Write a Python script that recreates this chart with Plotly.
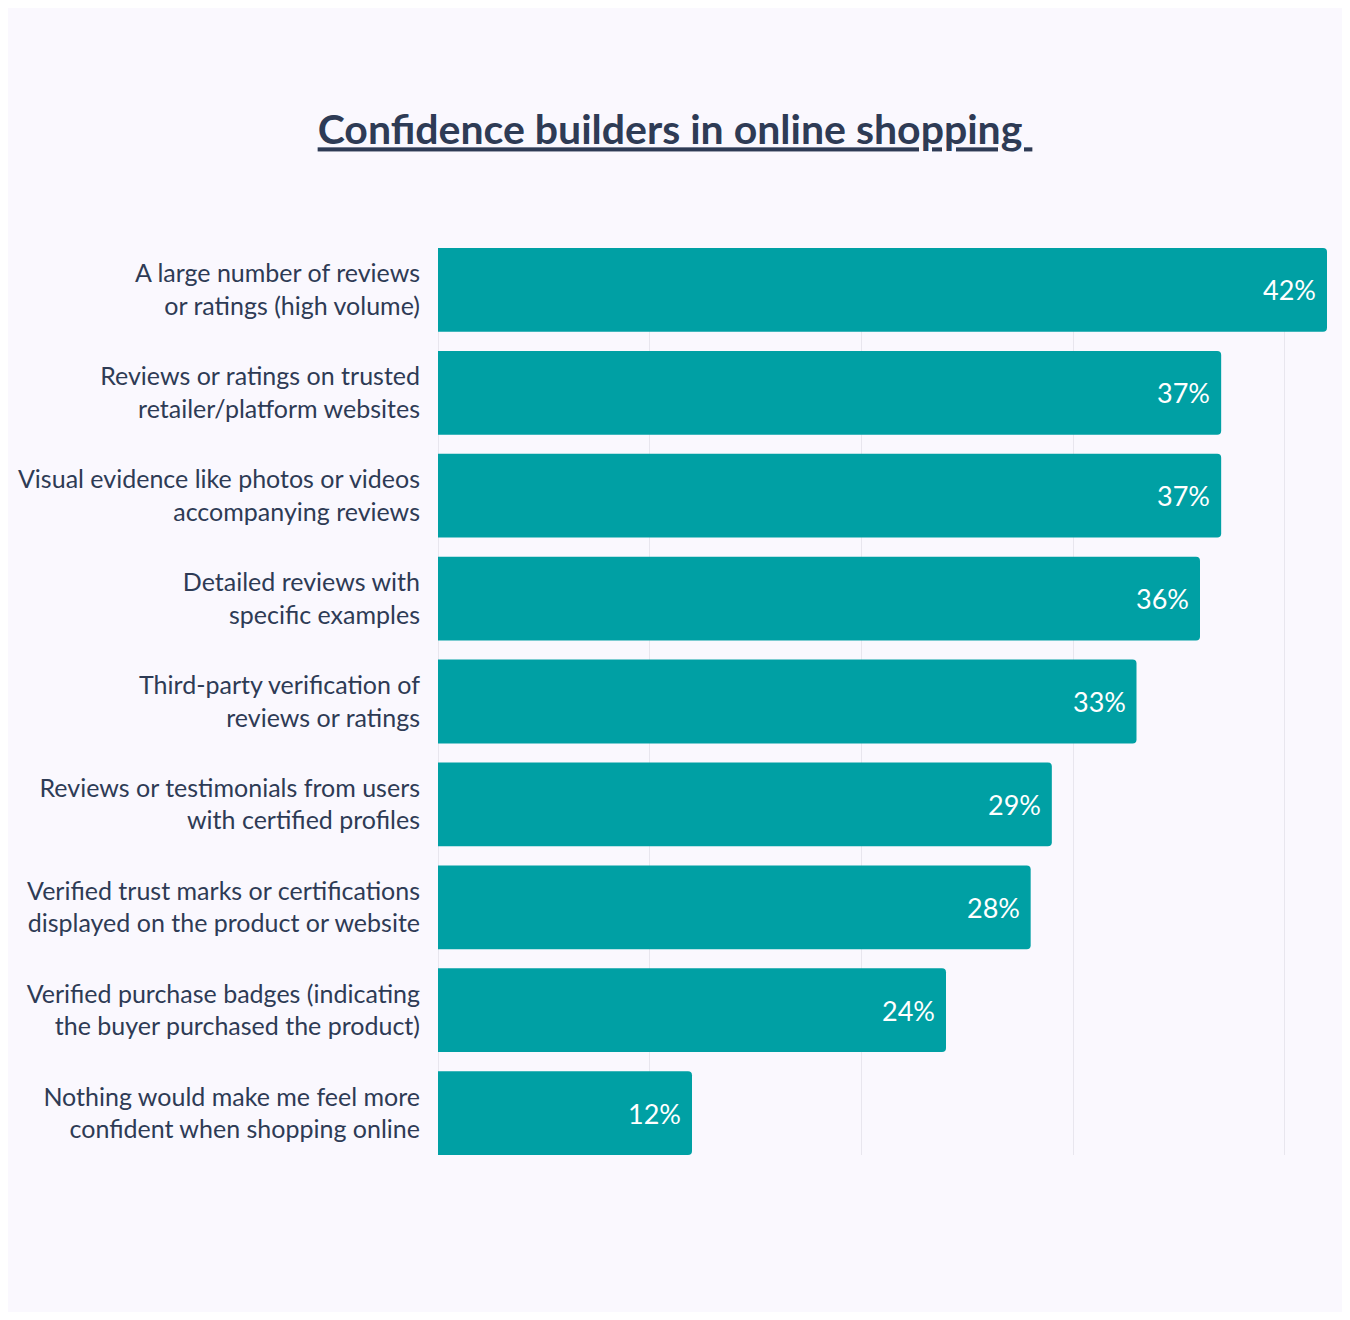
import plotly.graph_objects as go

# Survey data
categories = [
    "A large number of reviews<br>or ratings (high volume)",
    "Reviews or ratings on trusted<br>retailer/platform websites",
    "Visual evidence like photos or videos<br>accompanying reviews",
    "Detailed reviews with<br>specific examples",
    "Third-party verification of<br>reviews or ratings",
    "Reviews or testimonials from users<br>with certified profiles",
    "Verified trust marks or certifications<br>displayed on the product or website",
    "Verified purchase badges (indicating<br>the buyer purchased the product)",
    "Nothing would make me feel more<br>confident when shopping online",
]
values = [42, 37, 37, 36, 33, 29, 28, 24, 12]

bar_color = "#00A0A4"
text_color = "#2E3B55"
bg_color = "#FAF8FE"

fig = go.Figure(go.Bar(
    x=values,
    y=categories,
    orientation="h",
    marker=dict(color=bar_color, line=dict(width=0)),
    width=0.814,
    hoverinfo="x+y",
))

# value labels inside the bar ends
for cat, v in zip(categories, values):
    fig.add_annotation(
        x=v, y=cat, text=f"{v}%",
        xanchor="right", yanchor="middle", xshift=-9,
        showarrow=False,
        font=dict(color="white", size=27, family="Lato"),
    )

# page has an 8px body margin, so the figure is shrunk by 16px
fig.update_layout(
    width=1334,
    height=1304,
    paper_bgcolor=bg_color,
    plot_bgcolor=bg_color,
    margin=dict(l=430, r=15, t=240, b=157, autoexpand=False),
    barcornerradius=4,
    font=dict(family="Lato", color=text_color),
    title=dict(
        text="<b>Confidence builders in online shopping </b>",
        x=0.5,
        xanchor="center",
        y=1 - 122 / 1304,
        yanchor="middle",
        font=dict(size=41, color=text_color, family="Lato", lineposition="under"),
    ),
    showlegend=False,
)

fig.update_xaxes(
    range=[0, 42],
    tickvals=[10, 20, 30, 40],
    showticklabels=False,
    showgrid=True,
    gridcolor="#E8E6EE",
    gridwidth=1,
    zeroline=True,
    zerolinecolor="#E8E6EE",
    zerolinewidth=1,
    fixedrange=True,
    automargin=False,
)
fig.update_yaxes(
    range=[8.407, -0.407],
    tickfont=dict(size=25, color=text_color, family="Lato"),
    ticks="outside",
    ticklen=12,
    tickcolor="rgba(0,0,0,0)",
    showgrid=False,
    fixedrange=True,
    automargin=False,
)

fig.write_html("out.html")
